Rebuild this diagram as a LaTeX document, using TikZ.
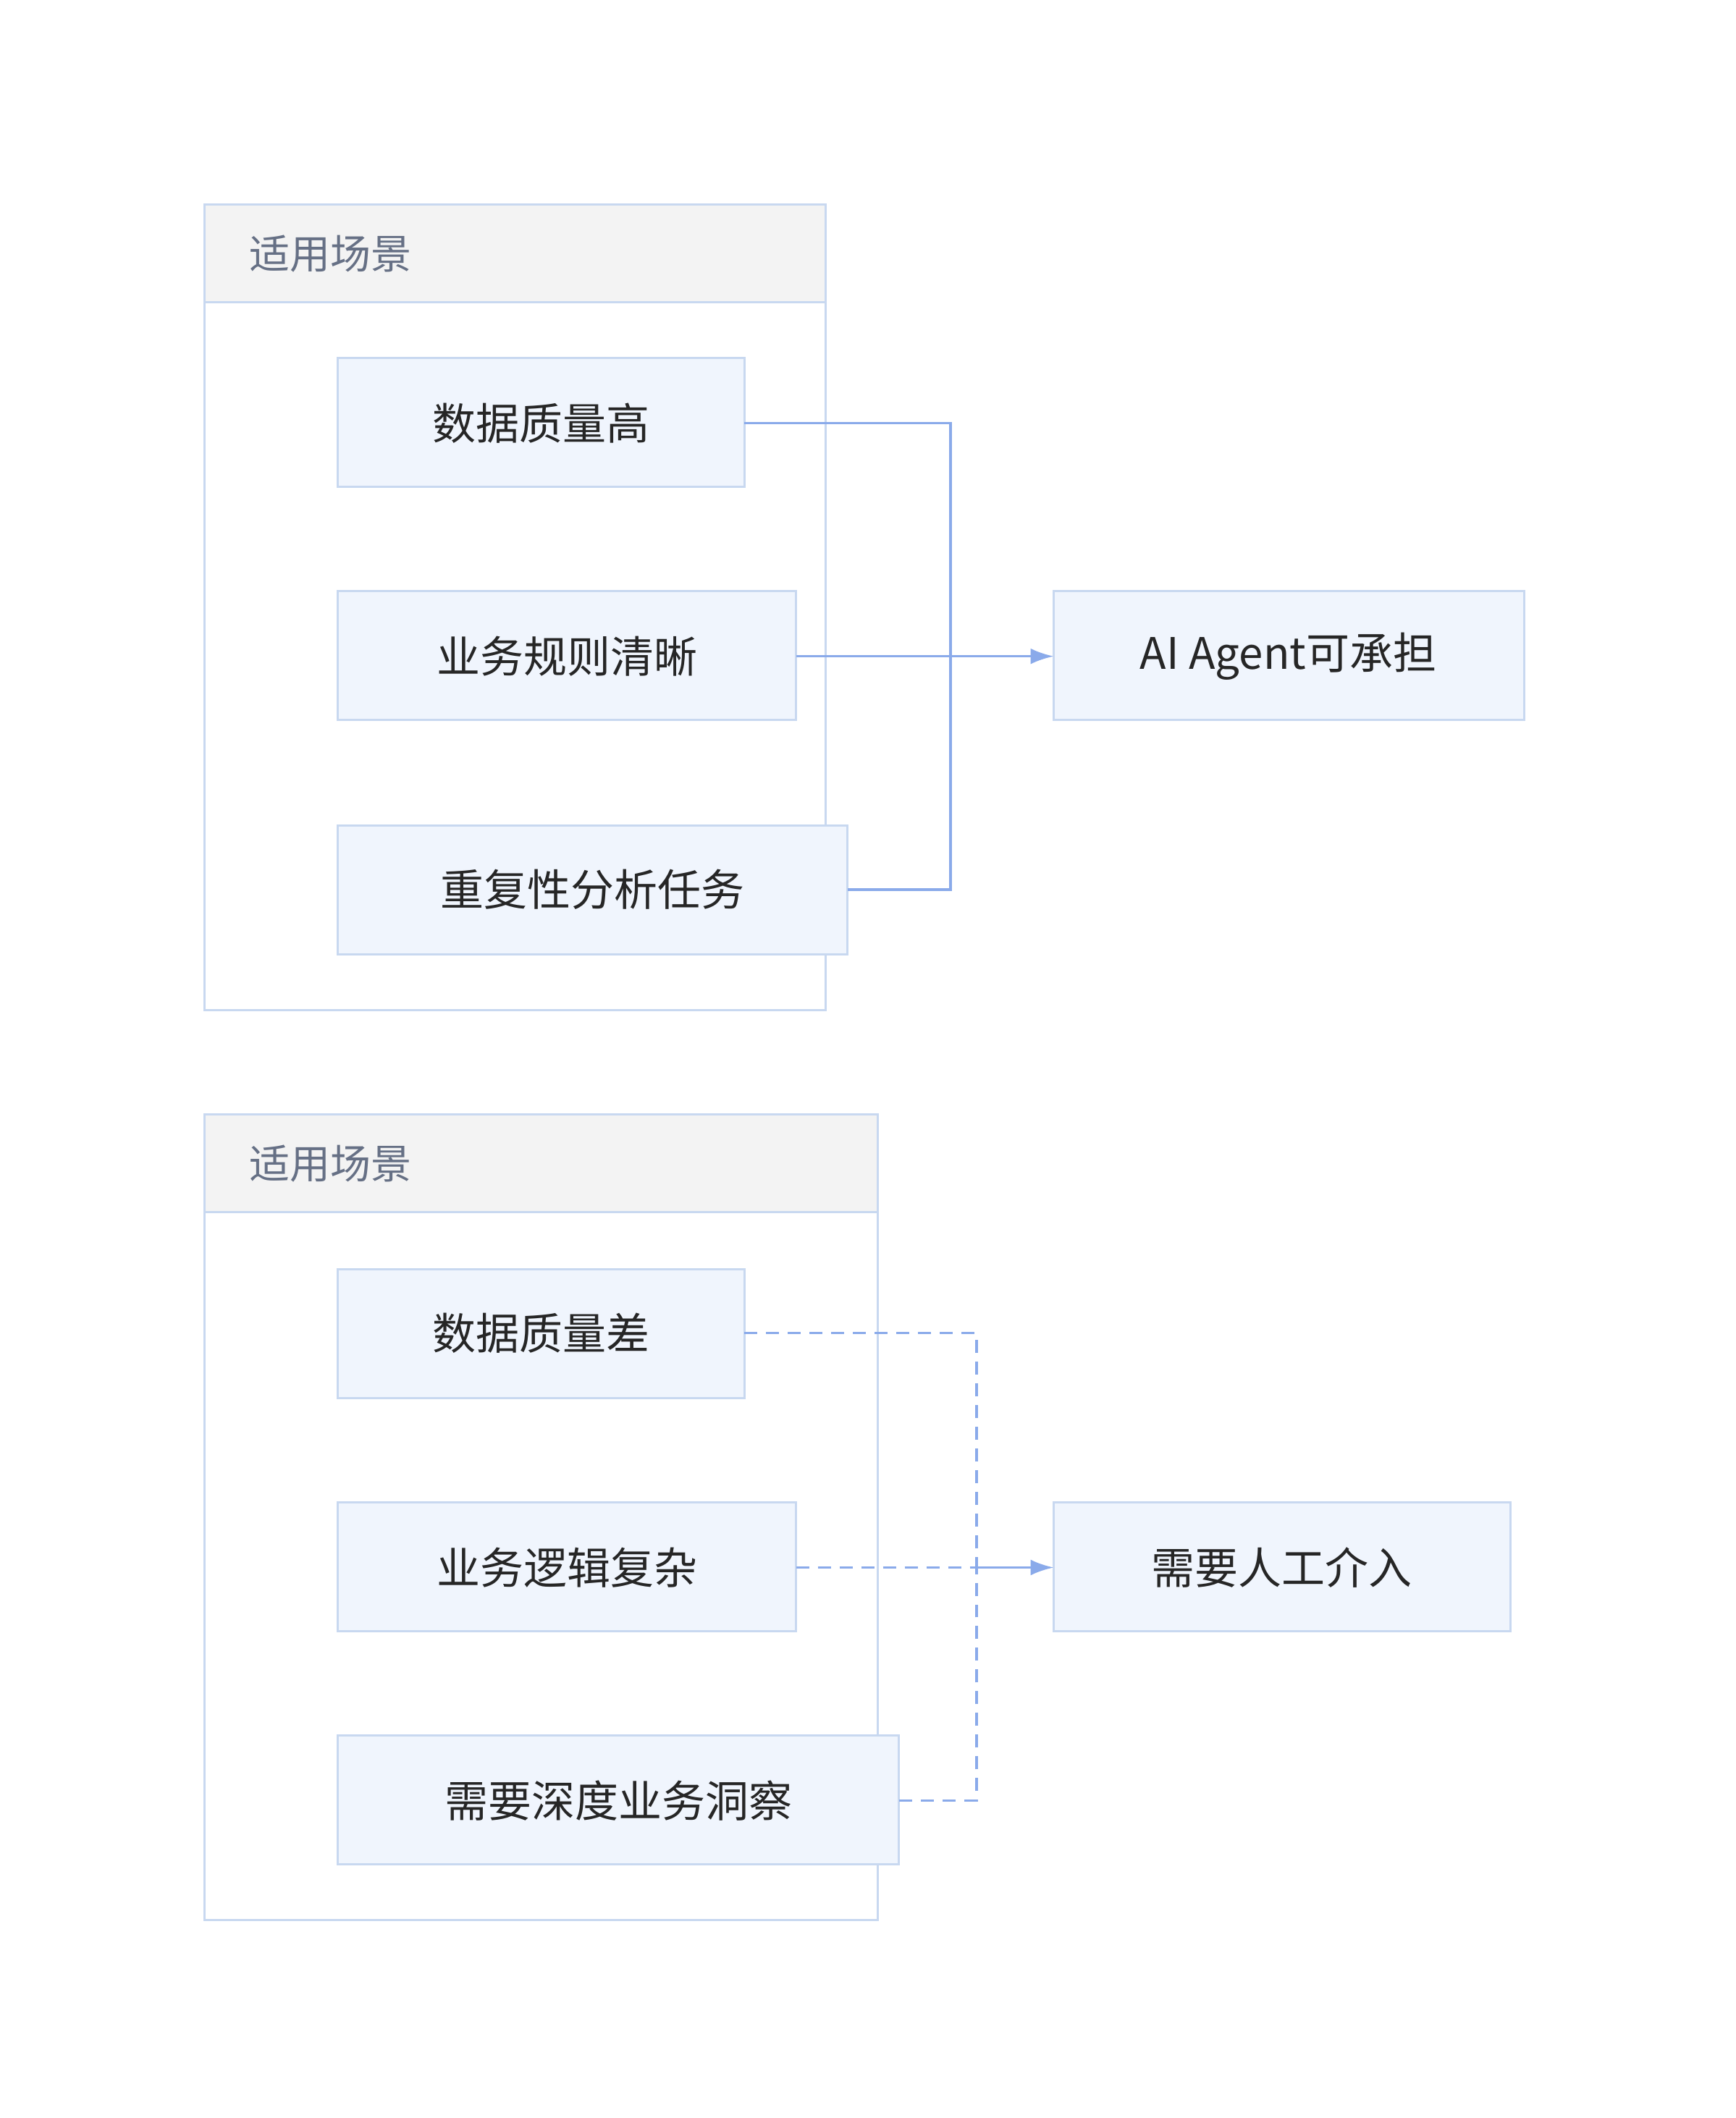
\documentclass[tikz,border=0pt]{standalone}
\usepackage{fontspec}
\setmainfont{Noto Sans CJK SC}
\usetikzlibrary{arrows.meta}
\definecolor{bd}{HTML}{C8D8F0}
\definecolor{nf}{HTML}{F0F5FD}
\definecolor{hf}{HTML}{F3F3F3}
\definecolor{ln}{HTML}{8AAAEA}
\definecolor{ar}{HTML}{2F6AD9}
\definecolor{ht}{HTML}{667085}
\begin{document}
\begin{tikzpicture}[x=0.9367pt,y=-0.9367pt,
 box/.style={draw=bd,line width=1.5pt,fill=nf},
 lbl/.style={font=\fontsize{30}{36}\selectfont,text=black!85},
 hdr/.style={font=\fontsize{28}{34}\selectfont,text=ht,anchor=west},
 con/.style={draw=ln,line width=1.8pt},
 tip/.style={-{Latex[length=16pt,width=11pt]},color=ar}]
\useasboundingbox (0,0) rectangle (1280,1562);
% group 1
\draw[draw=bd,line width=1.5pt] (151,151) rectangle (609,745);
\draw[draw=bd,line width=1.5pt,fill=hf] (151,151) rectangle (609,223);
\node[hdr] (h1) at (180,187) {适用场景};
\draw[box] (249,264) rectangle (549,359); \node[lbl] (a1) at (399,312) {数据质量高};
\draw[box] (249,436) rectangle (587,531); \node[lbl] (a2) at (418,484) {业务规则清晰};
\draw[box] (249,609) rectangle (625,704); \node[lbl] (a3) at (437,656) {重复性分析任务};
\draw[box] (777,436) rectangle (1124,531); \node[lbl] (t1) at (950,484) {AI Agent可承担};
\coordinate (a1e) at (549,312); \coordinate (a2e) at (587,484); \coordinate (a3e) at (625,656);
\coordinate (t1w) at (777,484); \coordinate (j1) at (701,484);
\draw[con] (a1e) -- (701,312) -- (j1);
\draw[con] (a3e) -- (701,656) -- (j1);
\draw[con] (a2e) -- (760,484);
\draw[con,tip,draw=ln] (740,484) -- (t1w);
% group 2
\draw[draw=bd,line width=1.5pt] (151,822) rectangle (647,1416);
\draw[draw=bd,line width=1.5pt,fill=hf] (151,822) rectangle (647,894);
\node[hdr] (h2) at (180,858) {适用场景};
\draw[box] (249,936) rectangle (549,1031); \node[lbl] (b1) at (399,983) {数据质量差};
\draw[box] (249,1108) rectangle (587,1203); \node[lbl] (b2) at (418,1156) {业务逻辑复杂};
\draw[box] (249,1280) rectangle (663,1375); \node[lbl] (b3) at (456,1328) {需要深度业务洞察};
\draw[box] (777,1108) rectangle (1114,1203); \node[lbl] (t2) at (945,1156) {需要人工介入};
\coordinate (b1e) at (549,983); \coordinate (b2e) at (587,1156); \coordinate (b3e) at (663,1328);
\coordinate (t2w) at (777,1156); \coordinate (j2) at (720,1156);
\draw[con,dash pattern=on 9pt off 6pt] (b1e) -- (720,983) -- (j2);
\draw[con,dash pattern=on 9pt off 6pt] (b3e) -- (720,1328) -- (j2);
\draw[con,dash pattern=on 9pt off 6pt] (b2e) -- (720,1156);
\draw[con,tip,draw=ln] (720,1156) -- (t2w);
\end{tikzpicture}
\end{document}
